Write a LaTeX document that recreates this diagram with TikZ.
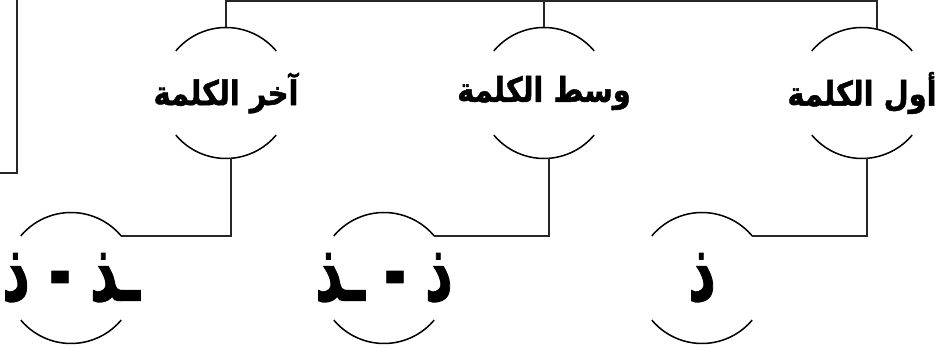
\documentclass[tikz,border=0pt]{standalone}
\usepackage{fontspec}
\newfontfamily\arabicfont[Script=Arabic, BoldFeatures={FakeBold=1.5}]{DejaVu Sans}
\TeXXeTstate=1
\newcommand{\narrow}[2]{\scalebox{#1}[1]{#2}}

\begin{document}
\begin{tikzpicture}[
    x=0.03cm, y=-0.03cm,
    ring/.style={black, line width=1.3pt},
    wire/.style={black!85, line width=1.2pt},
    word/.style={font=\arabicfont\bfseries\fontsize{29}{34}\selectfont, inner sep=0pt},
    letter/.style={font=\arabicfont\bfseries\fontsize{70}{80}\selectfont, inner sep=0pt}
]

\useasboundingbox (0,0) rectangle (939,349);

% ---------- frame on the left ----------
\draw[wire] (17,0) |- (0,173);

% ---------- words ----------
\node[word] (last)   at (226,93) {\narrow{0.85}{\beginR آخر الكلمة\endR}};
\node[word] (middle) at (544,93) {\narrow{0.85}{\beginR وسط الكلمة\endR}};
\node[word] (first)  at (862,93) {\narrow{0.85}{\beginR أول الكلمة\endR}};

% ---------- letters ----------
\node[letter] (lastl)   at (71,278)  {\narrow{0.66}{\beginR ـذ - ذ\endR}};
\node[letter] (middlel) at (384,278) {\narrow{0.66}{\beginR ذ - ـذ\endR}};
\node[letter] (firstl)  at (702,278) {\narrow{0.66}{\beginR ذ\endR}};

% ---------- rings ----------
\foreach \c in {last,middle,first,lastl,middlel,firstl} {
  \draw[ring] ([shift={(140:1.965cm)}]\c.center) arc[start angle=140, end angle=40, radius=1.965cm];
  \draw[ring] ([shift={(220:1.965cm)}]\c.center) arc[start angle=220, end angle=320, radius=1.965cm];
}

% ---------- joints ----------
\coordinate (bus) at (0,1);
\coordinate (last-n)   at ([shift={(90:1.965cm)}]last.center);
\coordinate (middle-n) at ([shift={(90:1.965cm)}]middle.center);
\coordinate (first-n)  at ([shift={(76.6:1.965cm)}]first.center);
\foreach \c in {last,middle,first} {
  \coordinate (\c-s)  at ([shift={(-85.6:1.965cm)}]\c.center);
  \coordinate (\c l-e) at ([shift={(40:1.965cm)}]\c l.center);
}

% ---------- connectors ----------
\draw[wire] (last-n) -- (last-n |- bus) -- (first-n |- bus) -- (first-n);
\draw[wire] (middle-n) -- (middle-n |- bus);
\foreach \c in {last,middle,first}
  \draw[wire] (\c-s) |- (\c l-e);

\end{tikzpicture}
\end{document}
